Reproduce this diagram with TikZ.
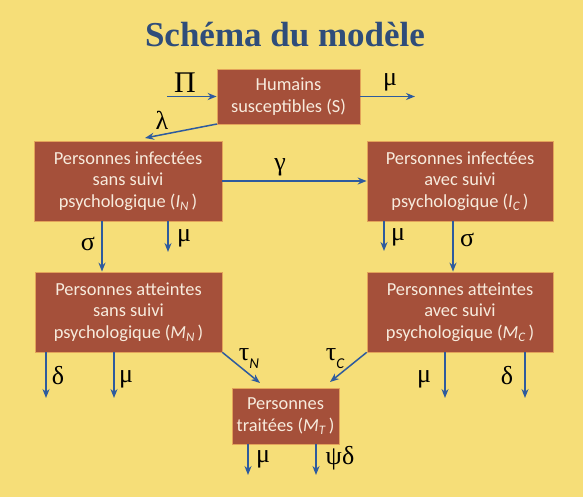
\documentclass[tikz,border=0pt]{standalone}
\usepackage{fontspec}
\setmainfont{Carlito}
\newfontfamily\greekfont{Liberation Serif}
\newfontfamily\titlefont{Liberation Serif}
\usetikzlibrary{arrows.meta}
\definecolor{bgyellow}{HTML}{F6DE78}
\definecolor{boxfill}{HTML}{A5503A}
\definecolor{boxedge}{HTML}{E3A35A}
\definecolor{boxtext}{HTML}{F7EBDD}
\definecolor{arrowblue}{HTML}{2E5B9E}
\definecolor{titleblue}{HTML}{2F4D7A}
\tikzset{
  compartment/.style={draw=boxedge, line width=0.7pt, fill=boxfill, text=boxtext,
    font=\fontsize{18.4}{21.7}\selectfont, align=center, inner sep=0pt},
  flow/.style={draw=arrowblue, line width=1.5pt, -{Stealth[length=9pt,width=7pt]}},
  rate/.style={font=\greekfont\fontsize{26}{26}\selectfont, text=black, inner sep=0pt}
}
\newcommand{\idx}[2]{\textit{#1}\raisebox{-0.35ex}{\textit{\fontsize{13}{13}\selectfont #2}}}
\newcommand{\rsub}[1]{\raisebox{-8pt}{\fontspec{Carlito}\itshape\fontsize{15}{15}\selectfont #1}}
\begin{document}
\begin{tikzpicture}[x=1pt,y=-1pt]
  \fill[bgyellow] (0,0) rectangle (583,497);
  \useasboundingbox (0,0) rectangle (583,497);

  % title
  \node[font=\titlefont\bfseries\fontsize{35}{35}\selectfont, text=titleblue] (title) at (285,35) {Schéma du modèle};

  % compartments
  \node[compartment, minimum width=143pt, minimum height=55pt] (S) at (288.5,96.5) {Humains\\susceptibles (S)};
  \node[compartment, minimum width=188pt, minimum height=80pt] (IN) at (128,181) {Personnes infectées\\sans suivi\\psychologique (\idx{I}{N}\,)};
  \node[compartment, minimum width=186pt, minimum height=80pt] (IC) at (460,181) {Personnes infectées\\avec suivi\\psychologique (\idx{I}{C}\,)};
  \node[compartment, minimum width=187pt, minimum height=80pt] (MN) at (128.5,312) {Personnes atteintes\\sans suivi\\psychologique (\idx{M}{N}\,)};
  \node[compartment, minimum width=186pt, minimum height=80pt] (MC) at (460,312) {Personnes atteintes\\avec suivi\\psychologique (\idx{M}{C}\,)};
  \node[compartment, minimum width=107pt, minimum height=56pt] (MT) at (285.5,416) {Personnes\\traitées (\idx{M}{T}\,)};

  % free ends of the flows
  \coordinate (inflow) at (167,96.5);
  \coordinate (Sout) at (415,96.5);
  \coordinate (lamEnd) at (145,138);
  \coordinate (lamStart) at (217,124);
  \coordinate (xsigN) at (102,0);
  \coordinate (xmuIN) at (168,0);
  \coordinate (xmuIC) at (384,0);
  \coordinate (xsigC) at (453,0);
  \coordinate (xdelN) at (46,0);
  \coordinate (xmuMN) at (114,0);
  \coordinate (xmuMC) at (445,0);
  \coordinate (xdelC) at (525,0);
  \coordinate (xmuMT) at (248,0);
  \coordinate (xpsiMT) at (316,0);
  \coordinate (muINend) at (168,252);
  \coordinate (muICend) at (384,251);
  \coordinate (outMN1) at (46,398);
  \coordinate (outMN2) at (114,398);
  \coordinate (outMC1) at (445,398);
  \coordinate (outMC2) at (525,398);
  \coordinate (outMT1) at (248,475);
  \coordinate (outMT2) at (316,475);
  \coordinate (tauNend) at (260,383);
  \coordinate (tauCend) at (330,382);

  % flows
  \draw[flow] (inflow) -- (S.west);
  \draw[flow] (S.east) -- (Sout);
  \draw[flow] (lamStart) -- (lamEnd);
  \draw[flow] (IN.east) -- (IC.west);
  \draw[flow] (IN.south -| xsigN) -- (MN.north -| xsigN);
  \draw[flow] (IN.south -| xmuIN) -- (muINend);
  \draw[flow] (IC.south -| xmuIC) -- (muICend);
  \draw[flow] (IC.south -| xsigC) -- (MC.north -| xsigC);
  \draw[flow] (MN.south -| xdelN) -- (outMN1);
  \draw[flow] (MN.south -| xmuMN) -- (outMN2);
  \draw[flow] (MN.south east) -- (tauNend);
  \draw[flow] (MC.south west) -- (tauCend);
  \draw[flow] (MC.south -| xmuMC) -- (outMC1);
  \draw[flow] (MC.south -| xdelC) -- (outMC2);
  \draw[flow] (MT.south -| xmuMT) -- (outMT1);
  \draw[flow] (MT.south -| xpsiMT) -- (outMT2);

  % rates
  \node[rate, font=\greekfont\fontsize{30}{30}\selectfont] (lPi) at (185,83) {Π};
  \node[rate] (lmuS) at (390,82) {μ};
  \node[rate] (llam) at (162,120) {λ};
  \node[rate] (lgam) at (280,167) {γ};
  \node[rate] (lsigN) at (88,244) {σ};
  \node[rate] (lmuIN) at (184,238) {μ};
  \node[rate] (lmuIC) at (398,237) {μ};
  \node[rate] (lsigC) at (467,240) {σ};
  \node[rate] (ldelN) at (58,376) {δ};
  \node[rate] (lmuMN) at (126,379) {μ};
  \node[rate] (ltauN) at (249,359) {τ\rsub{N}};
  \node[rate] (ltauC) at (335,359) {τ\rsub{C}};
  \node[rate] (lmuMC) at (424,379) {μ};
  \node[rate] (ldelC) at (507,376) {δ};
  \node[rate] (lmuMT) at (263,459) {μ};
  \node[rate] (lpsi) at (340,458) {ψδ};
\end{tikzpicture}
\end{document}
